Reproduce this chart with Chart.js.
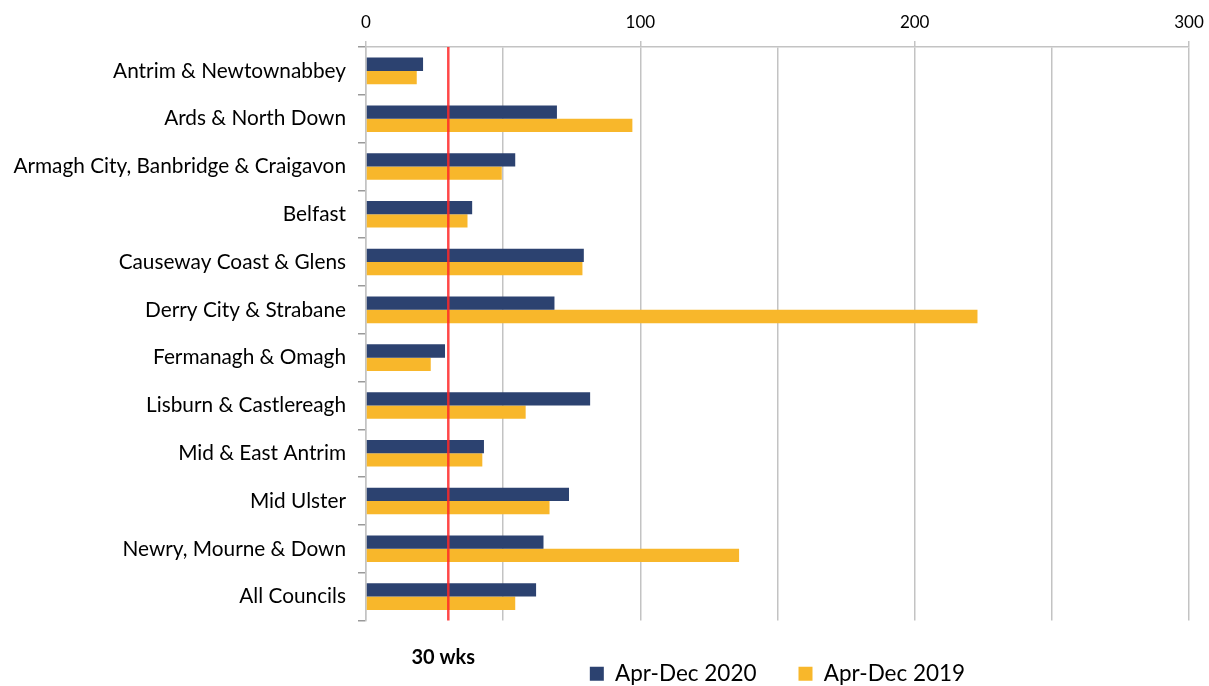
<!DOCTYPE html>
<html>
<head>
<meta charset="utf-8">
<script src="https://cdn.jsdelivr.net/npm/chart.js@4"></script>
<style>
html, body { margin: 0; padding: 0; background: #fff; }
</style>
</head>
<body>
<canvas id="chart" width="1209" height="686"></canvas>
<script>
// -------- DATA --------
const councils = [
    'Antrim & Newtownabbey',
    'Ards & North Down',
    'Armagh City, Banbridge & Craigavon',
    'Belfast',
    'Causeway Coast & Glens',
    'Derry City & Strabane',
    'Fermanagh & Omagh',
    'Lisburn & Castlereagh',
    'Mid & East Antrim',
    'Mid Ulster',
    'Newry, Mourne & Down',
    'All Councils'
];
const weeks2020 = [20.8, 69.6, 54.4, 38.7, 79.4, 68.7, 28.8, 81.7, 43.0, 74.0, 64.7, 62.0];
const weeks2019 = [18.5, 97.1, 49.5, 37.0, 78.9, 222.9, 23.6, 58.2, 42.4, 66.9, 136.0, 54.4];
const seriesNames = ['Apr-Dec 2020', 'Apr-Dec 2019'];
const xTickLabels = [0, 100, 200, 300];
const targetWeeks = 30;
const targetLabel = '30 wks';

const NAVY = '#2C4270';
const GOLD = '#F8B72B';
const GRID = '#C3C3C3';
const FONT = 'Lato';

// -------- 30 WEEK TARGET LINE --------
const targetLine = {
    id: 'targetLine',
    afterDatasetsDraw(chart) {
        const { ctx, chartArea, scales } = chart;
        const x = scales.x.getPixelForValue(targetWeeks);
        ctx.save();
        ctx.strokeStyle = 'rgba(255, 40, 40, 0.85)';
        ctx.lineWidth = 2.5;
        ctx.beginPath();
        ctx.moveTo(x, chartArea.top);
        ctx.lineTo(x, chartArea.bottom);
        ctx.stroke();

        ctx.font = 'bold 20px ' + FONT;
        ctx.fillStyle = '#000';
        ctx.textAlign = 'center';
        ctx.textBaseline = 'middle';
        ctx.fillText(targetLabel, x - 5, chartArea.bottom + 37);
        ctx.restore();
    }
};

new Chart(document.getElementById('chart'), {
    type: 'bar',
    data: {
        labels: councils,
        datasets: [
            { label: seriesNames[0], data: weeks2020, backgroundColor: NAVY },
            { label: seriesNames[1], data: weeks2019, backgroundColor: GOLD }
        ]
    },
    options: {
        indexAxis: 'y',
        responsive: false,
        animation: false,
        devicePixelRatio: 1,
        categoryPercentage: 0.556,
        barPercentage: 1,
        layout: { padding: { left: 0, right: 20, top: 0, bottom: -9 } },
        scales: {
            x: {
                position: 'top',
                min: 0,
                max: 300,
                afterFit: s => { s.height = 47; s.paddingRight = 0; },
                ticks: {
                    stepSize: 50,
                    padding: 8,
                    maxRotation: 0,
                    color: '#000',
                    font: { family: FONT, size: 17 },
                    callback: v => xTickLabels.includes(v) ? v : ''
                },
                grid: {
                    color: GRID,
                    lineWidth: 1.5,
                    tickLength: 6,
                    tickColor: c => (c.tick && xTickLabels.includes(c.tick.value)) ? GRID : 'rgba(0,0,0,0)'
                },
                border: { color: GRID, width: 1.5 }
            },
            y: {
                afterFit: s => { s.width = 366; },
                ticks: {
                    padding: 12,
                    color: '#000',
                    font: { family: FONT, size: 20.8 }
                },
                grid: {
                    offset: true,
                    drawOnChartArea: false,
                    tickLength: 8,
                    color: '#9a9a9a',
                    lineWidth: 1.5
                },
                border: { color: GRID, width: 1.5 }
            }
        },
        plugins: {
            tooltip: { enabled: false },
            legend: {
                position: 'bottom',
                fullSize: false,
                labels: {
                    boxWidth: 14,
                    boxHeight: 14,
                    padding: 42,
                    color: '#000',
                    font: { family: FONT, size: 22.5 }
                }
            }
        }
    },
    plugins: [targetLine]
});
</script>
</body>
</html>
